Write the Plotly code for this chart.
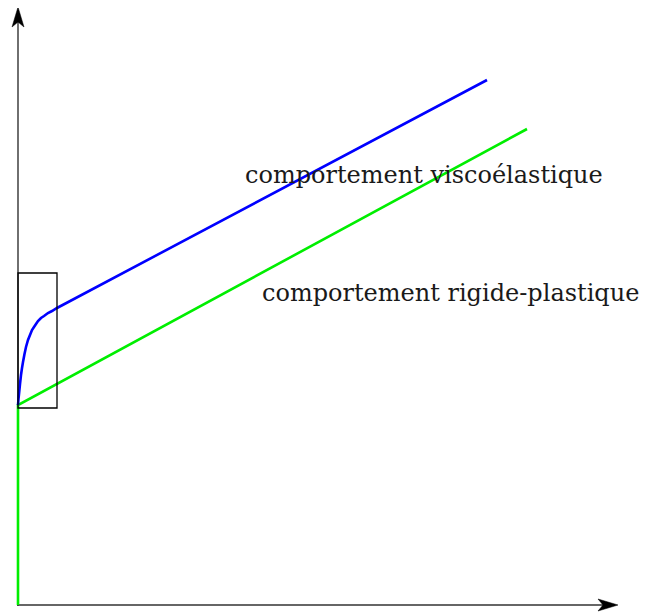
import plotly.graph_objects as go

# valeurs (repère : origine au croisement des axes)
visco_x = [0, 0.5, 1, 1.5, 2, 3, 4, 5, 6.5, 8, 10, 12, 14, 16, 18, 20, 23, 26, 30, 34, 39, 469]
visco_y = [200, 206, 211, 216, 221, 230, 237, 243, 251, 258, 265, 270, 275, 278, 281, 284,
           287, 289, 292, 294, 297, 525]

rigide_x = [0, 0, 509]
rigide_y = [0, 200, 476]

zoom_box_x = [0, 39]
zoom_box_y = [197, 332]

axis_end = [600, 598]

labels = ["comportement viscoélastique", "comportement rigide-plastique"]
label_x = [225, 242]
label_y = [430, 312]

# taille des pointes de flèches (en px, 1 unité = 1 px)
HEAD_LEN, HEAD_HALF, NOTCH = 20, 6, 5

fig = go.Figure()

# axes (sous les courbes)
fig.add_shape(type='line', xref='x', yref='y', x0=-1, y0=0, x1=axis_end[0] - HEAD_LEN + NOTCH, y1=0,
              line=dict(color='#333', width=1.4), layer='below')
fig.add_shape(type='line', xref='x', yref='y', x0=0, y0=-1, x1=0, y1=axis_end[1] - HEAD_LEN + NOTCH,
              line=dict(color='#333', width=1.4), layer='below')

# pointes de flèches
xe, ye = axis_end
fig.add_shape(type='path', xref='x', yref='y',
              path=f"M{xe},0 L{xe - HEAD_LEN},{HEAD_HALF} L{xe - HEAD_LEN + NOTCH},0 "
                   f"L{xe - HEAD_LEN},{-HEAD_HALF} Z",
              fillcolor='black', line=dict(color='black', width=0.5), layer='below')
fig.add_shape(type='path', xref='x', yref='y',
              path=f"M0,{ye} L{HEAD_HALF},{ye - HEAD_LEN} L0,{ye - HEAD_LEN + NOTCH} "
                   f"L{-HEAD_HALF},{ye - HEAD_LEN} Z",
              fillcolor='black', line=dict(color='black', width=0.5), layer='below')

fig.add_trace(go.Scatter(
    x=rigide_x, y=rigide_y, mode='lines',
    line=dict(color='#00ee00', width=2.6),
    showlegend=False, hoverinfo='skip'
))

fig.add_trace(go.Scatter(
    x=visco_x, y=visco_y, mode='lines',
    line=dict(color='#0000ff', width=2.6, simplify=False),
    showlegend=False, hoverinfo='skip'
))

fig.add_shape(
    type='rect', xref='x', yref='y',
    x0=zoom_box_x[0], x1=zoom_box_x[1], y0=zoom_box_y[0], y1=zoom_box_y[1],
    line=dict(color='black', width=1.3)
)

for txt, lx, ly in zip(labels, label_x, label_y):
    fig.add_annotation(x=lx, y=ly, xref='x', yref='y', text=txt,
                       showarrow=False, xanchor='left', yanchor='middle',
                       font=dict(family='DejaVu Serif', size=24, color='#1a1a1a'))

# la page html ajoute une marge de 8 px : on décale la fenêtre de tracé
fig.update_layout(
    width=639, height=604,
    margin=dict(l=0, r=0, t=0, b=0),
    paper_bgcolor='white', plot_bgcolor='white',
    xaxis=dict(range=[-10, 629], visible=False, fixedrange=True),
    yaxis=dict(range=[-7, 597], visible=False, fixedrange=True),
    showlegend=False
)

fig.write_html("out.html")
